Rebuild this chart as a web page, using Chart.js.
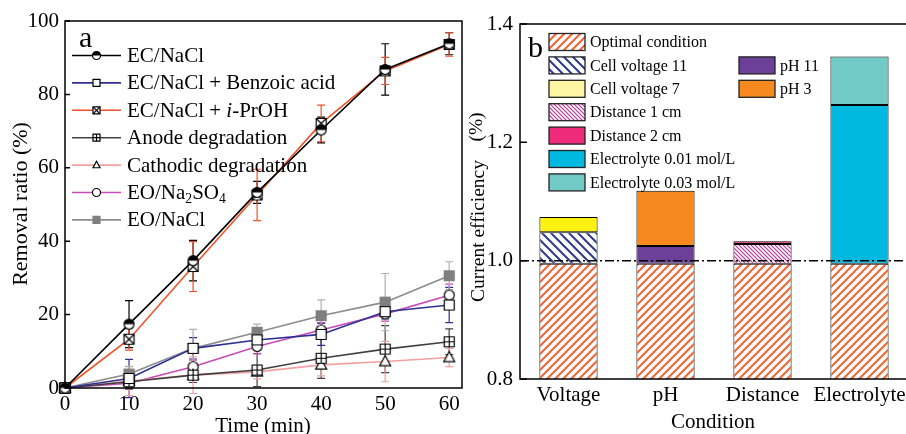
<!DOCTYPE html>
<html>
<head>
<meta charset="utf-8">
<script src="https://cdn.jsdelivr.net/npm/chart.js@4/dist/chart.umd.min.js"></script>
<style>
body { margin: 0; background: #fff; overflow: hidden; width: 906px; height: 434px; position: relative; }
#removal { position: absolute; left: 0; top: 0; }
#efficiency { position: absolute; left: 462px; top: 0; }
</style>
</head>
<body>
<canvas id="removal" width="470" height="434"></canvas>
<canvas id="efficiency" width="450" height="434"></canvas>
<script>
// ---- panel a data (removal ratio %, error = +/-)
var times = [0, 10, 20, 30, 40, 50, 60];
var ecNacl = [0, 17.4, 34.7, 53.3, 70.3, 86.8, 93.8];
var ecNaclErr = [0, 6.4, 5.5, 3, 3.5, 7, 3];
var benzoic = [0, 2.6, 10.8, 13.1, 14.6, 20.8, 22.6];
var benzoicErr = [0, 5.2, 2.9, 2, 3, 2, 4.8];
var iproh = [0, 13.3, 33.1, 52.6, 72.1, 86.4, 93.6];
var iprohErr = [0, 3, 6.8, 7, 5, 3.7, 3.2];
var anode = [0, 1.7, 3.5, 4.9, 8.1, 10.6, 12.6];
var anodeErr = [0, 2, 2, 4.5, 5.5, 6.4, 3.5];
var cathodic = [0, 1.9, 3.5, 4.4, 6.3, 7.2, 8.3];
var cathodicErr = [0, 4, 5, 1.9, 3, 5.5, 2.5];
var eoNa2so4 = [0, 1.3, 5.8, 11.3, 15.8, 20.2, 25.3];
var eoNa2so4Err = [0, 1.5, 1.8, 2, 2, 2, 3];
var eoNacl = [0, 3.8, 10.8, 15.2, 19.7, 23.4, 30.6];
var eoNaclErr = [0, 2, 5.2, 2.2, 4.3, 7.8, 3.8];
var seriesNames = ['EC/NaCl', 'EC/NaCl + Benzoic acid', 'EC/NaCl + *i*-PrOH', 'Anode degradation',
                   'Cathodic degradation', 'EO/Na_2SO_4', 'EO/NaCl'];

// ---- panel b data (stacked increments of current efficiency)
var conditions = ['Voltage', 'pH', 'Distance', 'Electrolyte'];
var optimal = [0.995, 0.995, 0.995, 0.995];
var cellVoltage11 = [0.053, null, null, null];
var cellVoltage7 = [0.026, null, null, null];
var ph11 = [null, 0.030, null, null];
var ph3 = [null, 0.093, null, null];
var distance1 = [null, null, 0.033, null];
var distance2 = [null, null, 0.005, null];
var electrolyte001 = [null, null, null, 0.268];
var electrolyte003 = [null, null, null, 0.082];

var serif = "'Liberation Serif', 'Times New Roman', serif";

function pts(ys) {
    return times.map(function (t, i) { return { x: t, y: ys[i] }; });
}

// markers
function drawMarker(ctx, kind, x, y, s) {
    ctx.save();
    ctx.lineWidth = 1.2;
    ctx.strokeStyle = '#000';
    ctx.fillStyle = '#fff';
    ctx.beginPath();
    if (kind == 'half') {
        ctx.arc(x, y, s, 0, Math.PI * 2); ctx.fill();
        ctx.fillStyle = '#000';
        ctx.beginPath(); ctx.arc(x, y, s, Math.PI, 0); ctx.closePath(); ctx.fill();
        ctx.beginPath(); ctx.arc(x, y, s, 0, Math.PI * 2); ctx.stroke();
    } else if (kind == 'circle') {
        ctx.arc(x, y, s, 0, Math.PI * 2); ctx.fill(); ctx.stroke();
    } else if (kind == 'triangle') {
        ctx.moveTo(x, y - s * 1.1); ctx.lineTo(x + s, y + s * 0.75); ctx.lineTo(x - s, y + s * 0.75);
        ctx.closePath(); ctx.fill(); ctx.stroke();
    } else if (kind == 'gray') {
        ctx.fillStyle = '#7f7f7f'; ctx.strokeStyle = '#7f7f7f';
        ctx.rect(x - s, y - s, 2 * s, 2 * s); ctx.fill(); ctx.stroke();
    } else {
        ctx.rect(x - s, y - s, 2 * s, 2 * s); ctx.fill(); ctx.stroke();
        ctx.beginPath();
        if (kind == 'squareX') {
            ctx.moveTo(x - s, y - s); ctx.lineTo(x + s, y + s);
            ctx.moveTo(x + s, y - s); ctx.lineTo(x - s, y + s);
        } else if (kind == 'squarePlus') {
            ctx.moveTo(x, y - s); ctx.lineTo(x, y + s);
            ctx.moveTo(x - s, y); ctx.lineTo(x + s, y);
        }
        ctx.stroke();
    }
    ctx.restore();
}

function markerCanvas(kind, s) {
    var c = document.createElement('canvas');
    var n = Math.ceil(s * 2 + 5);
    c.width = n; c.height = n;
    drawMarker(c.getContext('2d'), kind, n / 2, n / 2, s);
    return c;
}

function hatch(color, size, lw, dir) {
    var c = document.createElement('canvas');
    c.width = size; c.height = size;
    var x = c.getContext('2d');
    x.fillStyle = '#fff'; x.fillRect(0, 0, size, size);
    x.strokeStyle = color; x.lineWidth = lw;
    x.beginPath();
    if (dir > 0) {
        x.moveTo(0, size); x.lineTo(size, 0);
        x.moveTo(-size / 2, size / 2); x.lineTo(size / 2, -size / 2);
        x.moveTo(size / 2, size * 1.5); x.lineTo(size * 1.5, size / 2);
    } else {
        x.moveTo(0, 0); x.lineTo(size, size);
        x.moveTo(-size / 2, size / 2); x.lineTo(size / 2, size * 1.5);
        x.moveTo(size / 2, -size / 2); x.lineTo(size * 1.5, size / 2);
    }
    x.stroke();
    return x.createPattern(c, 'repeat');
}

// draws text with *italic* and _subscript parts
function richText(ctx, str, x, y, size) {
    var parts = str.split(/(\*[^*]+\*|_\d)/);
    parts.forEach(function (p) {
        if (!p) return;
        var dy = 0;
        if (p[0] == '*') { p = p.slice(1, -1); ctx.font = 'italic ' + size + 'px ' + serif; }
        else if (p[0] == '_') { p = p.slice(1); ctx.font = (size * 0.65) + 'px ' + serif; dy = size * 0.3; }
        else ctx.font = size + 'px ' + serif;
        ctx.fillText(p, x, y + dy);
        x += ctx.measureText(p).width;
    });
}

function frameAndTicks(tickLen) {
    return {
        id: 'frame',
        afterDraw: function (chart) {
            var a = chart.chartArea, ctx = chart.ctx, ys = chart.scales.y;
            ctx.save();
            ctx.strokeStyle = '#000';
            ctx.lineWidth = 1.5;
            ctx.strokeRect(a.left, a.top, a.right - a.left, a.bottom - a.top);
            ctx.beginPath();
            ys.ticks.forEach(function (t) {
                var y = ys.getPixelForValue(t.value);
                ctx.moveTo(a.left, y); ctx.lineTo(a.left + tickLen, y);
            });
            ctx.stroke();
            ctx.restore();
        }
    };
}

var errorBars = {
    id: 'errorBars',
    beforeDatasetsDraw: function (chart) {
        var ctx = chart.ctx, xs = chart.scales.x, ys = chart.scales.y;
        chart.data.datasets.forEach(function (ds) {
            ctx.save();
            ctx.strokeStyle = ds.errorColor;
            ctx.lineWidth = 1.2;
            ds.data.forEach(function (p, i) {
                var e = ds.errors[i];
                if (!e) return;
                var x = xs.getPixelForValue(p.x);
                var y1 = ys.getPixelForValue(p.y + e), y2 = ys.getPixelForValue(p.y - e);
                ctx.beginPath();
                ctx.moveTo(x, y1); ctx.lineTo(x, y2);
                ctx.moveTo(x - 4, y1); ctx.lineTo(x + 4, y1);
                ctx.moveTo(x - 4, y2); ctx.lineTo(x + 4, y2);
                ctx.stroke();
            });
            ctx.restore();
        });
    }
};

var textA = {
    id: 'textA',
    afterDraw: function (chart) {
        var ctx = chart.ctx;
        ctx.save();
        ctx.fillStyle = '#000';
        ctx.font = '30px ' + serif;
        ctx.textBaseline = 'alphabetic';
        ctx.fillText('a', 79, 47);
        ctx.font = '21px ' + serif;
        ctx.textAlign = 'center';
        ctx.fillText('Time (min)', 263, 432);
        ctx.save();
        ctx.translate(21, 204);
        ctx.rotate(-Math.PI / 2);
        ctx.textBaseline = 'middle';
        ctx.font = '22px ' + serif;
        ctx.fillText('Removal ratio (%)', 0, 0);
        ctx.restore();
        // legend
        ctx.textAlign = 'left';
        ctx.textBaseline = 'middle';
        chart.data.datasets.forEach(function (ds, i) {
            var y = 55.5 + i * 27.4;
            ctx.strokeStyle = ds.borderColor;
            ctx.lineWidth = 1.6;
            ctx.beginPath(); ctx.moveTo(72, y); ctx.lineTo(121, y); ctx.stroke();
            drawMarker(ctx, ds.marker, 96.5, y, ds.marker == 'half' || ds.marker == 'circle' ? 4 : 3.5);
            ctx.fillStyle = '#000';
            richText(ctx, seriesNames[i], 127, y + 1, 21);
        });
        ctx.restore();
    }
};

var markers = ['half', 'square', 'squareX', 'squarePlus', 'triangle', 'circle', 'gray'];
var lineColors = ['#000000', '#2e3192', '#f0522a', '#404040', '#f4a0a0', '#c84bb8', '#8c8c8c'];
var errColors = ['#000000', '#2e3192', '#f0522a', '#404040', '#f4a0a0', '#c84bb8', '#b0b0b0'];
var values = [ecNacl, benzoic, iproh, anode, cathodic, eoNa2so4, eoNacl];
var errs = [ecNaclErr, benzoicErr, iprohErr, anodeErr, cathodicErr, eoNa2so4Err, eoNaclErr];

var tickFont = { family: serif, size: 21 };

new Chart(document.getElementById('removal'), {
    type: 'line',
    data: {
        datasets: values.map(function (v, i) {
            return {
                label: seriesNames[i],
                data: pts(v),
                errors: errs[i],
                errorColor: errColors[i],
                marker: markers[i],
                borderColor: lineColors[i],
                borderWidth: 1.6,
                tension: 0,
                pointStyle: markerCanvas(markers[i], markers[i] == 'triangle' ? 5.5 : 5),
                clip: false
            };
        })
    },
    options: {
        responsive: false,
        animation: false,
        layout: { padding: { top: 21, right: 8 } },
        plugins: { legend: { display: false }, tooltip: { enabled: false } },
        scales: {
            x: {
                type: 'linear', min: 0, max: 62,
                afterBuildTicks: function (s) { s.ticks = times.map(function (t) { return { value: t }; }); },
                afterFit: function (s) { s.height = 46; },
                grid: { display: false, drawTicks: false },
                border: { display: false },
                ticks: { stepSize: 10, padding: 4, color: '#000', font: tickFont, maxRotation: 0, autoSkip: false }
            },
            y: {
                min: 0, max: 100,
                afterFit: function (s) { s.width = 65; },
                grid: { display: false, drawTicks: false },
                border: { display: false },
                ticks: { stepSize: 20, padding: 6, color: '#000', font: tickFont }
            }
        }
    },
    plugins: [errorBars, frameAndTicks(5), textA]
});

// ---- panel b
var fills = {
    optimal: hatch('#f26430', 8, 2, 1),
    cv11: hatch('#2e3a8c', 9, 2, -1),
    d1: hatch('#c2339b', 4, 1.2, -1)
};

var barSets = [
    { label: 'Optimal condition', data: optimal, bg: fills.optimal, legend: fills.optimal, col: 0, row: 0 },
    { label: 'Cell voltage 11', data: cellVoltage11, bg: fills.cv11, legend: fills.cv11, col: 0, row: 1 },
    { label: 'Cell voltage 7', data: cellVoltage7, bg: '#fff212', legend: '#fff6a3', col: 0, row: 2 },
    { label: 'pH 11', data: ph11, bg: '#6c3f98', legend: '#6c3f98', col: 1, row: 1 },
    { label: 'pH 3', data: ph3, bg: '#f7891f', legend: '#f7891f', col: 1, row: 2 },
    { label: 'Distance 1 cm', data: distance1, bg: fills.d1, legend: fills.d1, col: 0, row: 3 },
    { label: 'Distance 2 cm', data: distance2, bg: '#ee2a7b', legend: '#ee2a7b', col: 0, row: 4 },
    { label: 'Electrolyte 0.01 mol/L', data: electrolyte001, bg: '#00b9e1', legend: '#00b9e1', col: 0, row: 5 },
    { label: 'Electrolyte 0.03 mol/L', data: electrolyte003, bg: '#72cbc6', legend: '#72cbc6', col: 0, row: 6 }
];

var textB = {
    id: 'textB',
    afterDatasetsDraw: function (chart) {
        var ctx = chart.ctx, a = chart.chartArea, y = chart.scales.y.getPixelForValue(1.0);
        ctx.save();
        ctx.strokeStyle = '#000';
        ctx.lineWidth = 1.5;
        ctx.setLineDash([9, 3, 2, 3]);
        ctx.beginPath(); ctx.moveTo(a.left, y); ctx.lineTo(a.right, y); ctx.stroke();
        ctx.restore();
    },
    afterDraw: function (chart) {
        var ctx = chart.ctx;
        ctx.save();
        ctx.fillStyle = '#000';
        ctx.font = '30px ' + serif;
        ctx.fillText('b', 66, 57);
        ctx.font = '21px ' + serif;
        ctx.textAlign = 'center';
        ctx.fillText('Condition', 251, 428);
        ctx.save();
        ctx.translate(17, 231);
        ctx.rotate(-Math.PI / 2);
        ctx.textBaseline = 'middle';
        ctx.font = '19.5px ' + serif;
        ctx.fillText('Current efficiency', 0, 0);
        ctx.fillText('(%)', 104, -2);
        ctx.restore();
        // legend in two columns
        ctx.textAlign = 'left';
        ctx.textBaseline = 'middle';
        ctx.font = '16px ' + serif;
        chart.data.datasets.forEach(function (ds) {
            var bx = ds.col == 0 ? 87 : 277;
            var by = 42 + ds.row * 23.4;
            ctx.fillStyle = ds.legendFill;
            ctx.fillRect(bx, by - 8.5, 36, 17);
            ctx.strokeStyle = '#222';
            ctx.lineWidth = 1.3;
            ctx.strokeRect(bx, by - 8.5, 36, 17);
            ctx.fillStyle = '#000';
            ctx.fillText(ds.label, bx + 41, by + 1);
        });
        ctx.restore();
    }
};

new Chart(document.getElementById('efficiency'), {
    type: 'bar',
    data: {
        labels: conditions,
        datasets: barSets.map(function (b) {
            return {
                label: b.label,
                data: b.data,
                backgroundColor: b.bg,
                legendFill: b.legend,
                col: b.col,
                row: b.row,
                borderColor: '#000',
                borderWidth: 1,
                borderSkipped: false,
                barPercentage: 0.6,
                categoryPercentage: 1,
                stack: 's'
            };
        })
    },
    options: {
        responsive: false,
        animation: false,
        layout: { padding: { top: 24, right: 4 } },
        plugins: { legend: { display: false }, tooltip: { enabled: false } },
        scales: {
            x: {
                stacked: true,
                afterFit: function (s) { s.height = 55; },
                grid: { display: false, drawTicks: false },
                border: { display: false },
                ticks: { padding: 4, color: '#000', font: { family: serif, size: 21 }, maxRotation: 0, minRotation: 0, autoSkip: false }
            },
            y: {
                stacked: true,
                min: 0.8, max: 1.4,
                afterFit: function (s) { s.width = 58; },
                grid: { display: false, drawTicks: false },
                border: { display: false },
                ticks: {
                    stepSize: 0.2, padding: 7, color: '#000', font: tickFont,
                    callback: function (v) { return v.toFixed(1); }
                }
            }
        }
    },
    plugins: [frameAndTicks(7), textB]
});
</script>
</body>
</html>
